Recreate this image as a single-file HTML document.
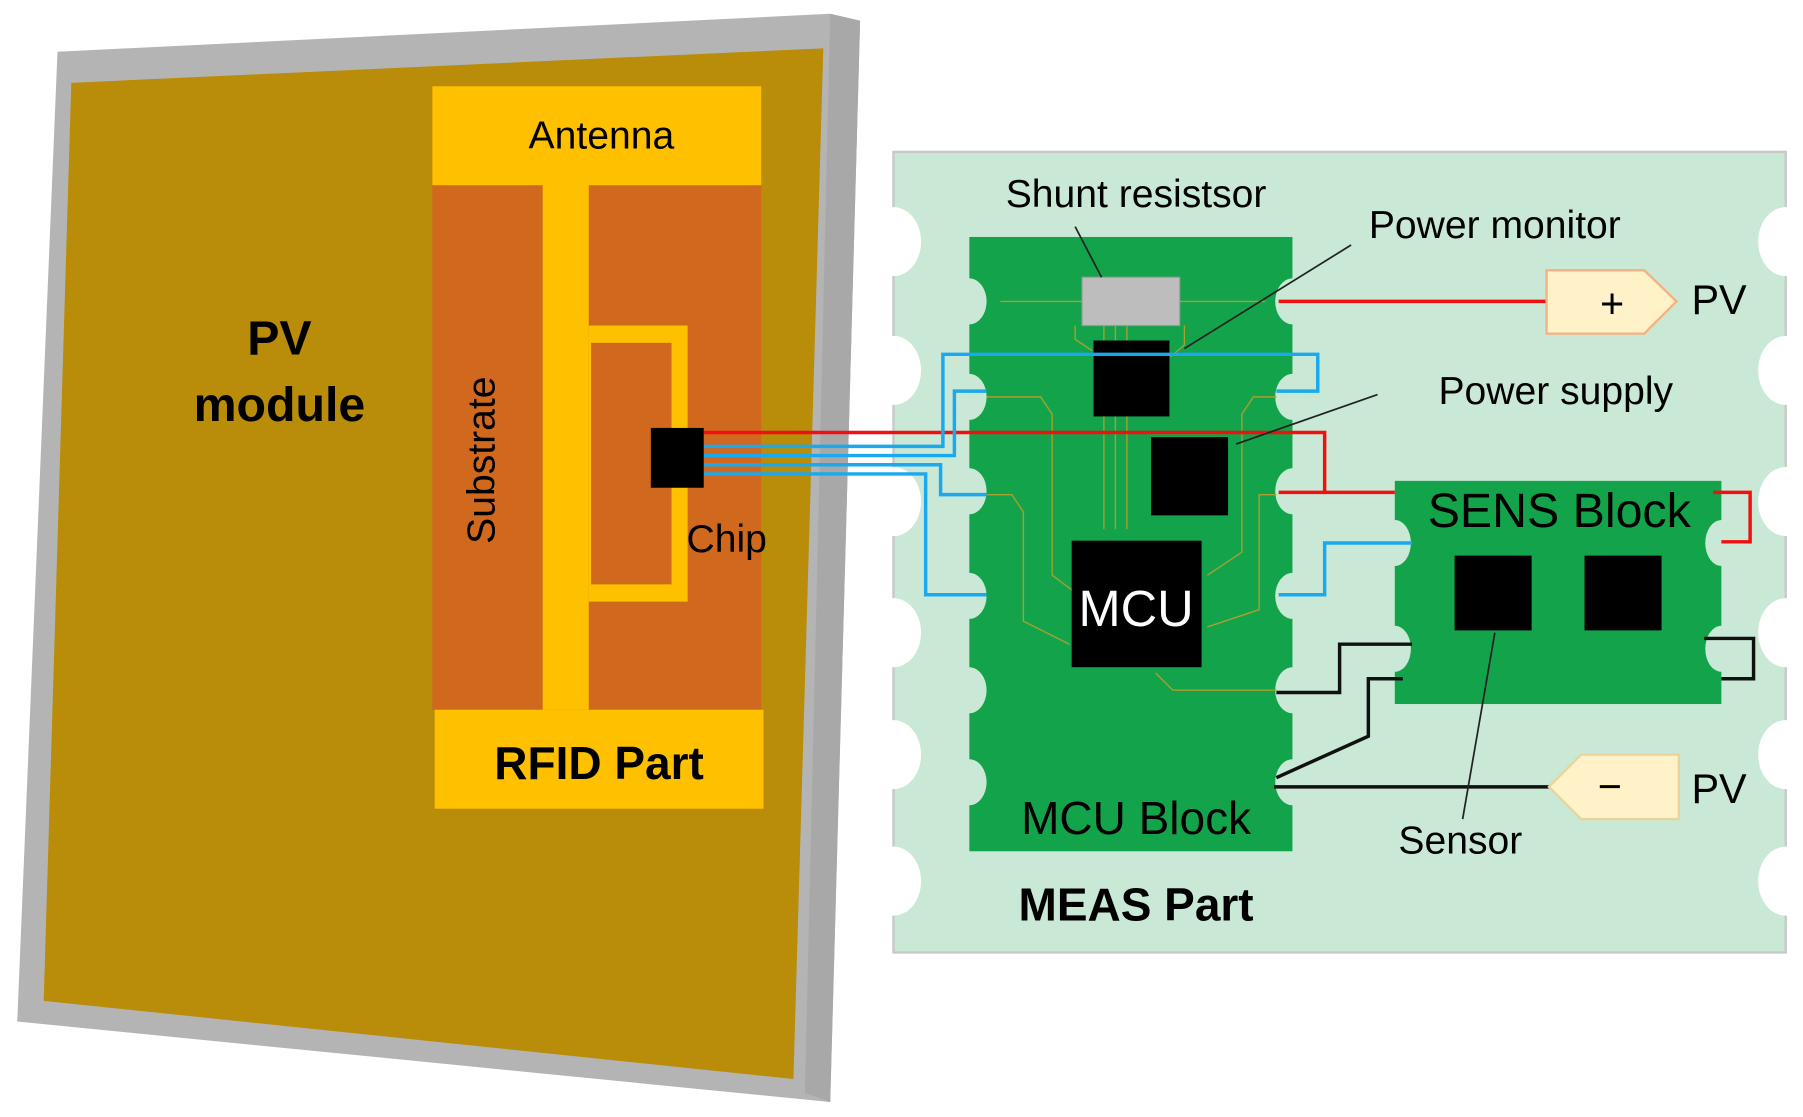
<!DOCTYPE html>
<html><head><meta charset="utf-8"><style>
html,body{margin:0;padding:0;background:#fff;}
svg{display:block;}
text{font-family:"Liberation Sans",sans-serif;}
</style></head><body>
<svg width="1803" height="1117" viewBox="0 0 1568 971" preserveAspectRatio="none" xmlns="http://www.w3.org/2000/svg">
<polygon points="50,45 722,12 748,18 722,958 15,888" fill="#b4b4b4"/>
<polygon points="722,12 748,18 722,958 700,950" fill="#a8a8a8"/>
<polygon points="62,72 716,42 690,938 38,870" fill="#b98c0a"/>
<rect x="376" y="160" width="96" height="457" fill="#d0691e"/>
<rect x="512" y="160" width="150" height="457" fill="#d0691e"/>
<rect x="472" y="160" width="40" height="457" fill="#ffc000"/>
<rect x="512" y="283" width="86" height="240" fill="#ffc000"/>
<rect x="514" y="298" width="70" height="210" fill="#d0691e"/>
<rect x="376" y="75" width="286" height="86" fill="#ffc000"/>
<rect x="378" y="617" width="286" height="86" fill="#ffc000"/>
<text x="523" y="129" font-size="34" text-anchor="middle">Antenna</text>
<text x="521" y="677" font-size="40" font-weight="bold" text-anchor="middle">RFID Part</text>
<text transform="translate(430,400) rotate(-90)" font-size="34" text-anchor="middle">Substrate</text>
<text x="632" y="480" font-size="34" text-anchor="middle">Chip</text>
<text x="243" y="308" font-size="42" font-weight="bold" text-anchor="middle">PV</text>
<text x="243" y="366" font-size="42" font-weight="bold" text-anchor="middle">module</text>
<rect x="777" y="132" width="776" height="696" fill="#c9e9d6" stroke="#c8c8c8" stroke-width="2"/>
<g fill="#fff">
<ellipse cx="777" cy="210" rx="24" ry="30"/><ellipse cx="777" cy="322" rx="24" ry="30"/><ellipse cx="777" cy="436" rx="24" ry="30"/><ellipse cx="777" cy="550" rx="24" ry="30"/><ellipse cx="777" cy="656" rx="24" ry="30"/><ellipse cx="777" cy="766" rx="24" ry="30"/>
<ellipse cx="1553" cy="210" rx="24" ry="30"/><ellipse cx="1553" cy="322" rx="24" ry="30"/><ellipse cx="1553" cy="436" rx="24" ry="30"/><ellipse cx="1553" cy="550" rx="24" ry="30"/><ellipse cx="1553" cy="656" rx="24" ry="30"/><ellipse cx="1553" cy="766" rx="24" ry="30"/>
</g>
<rect x="843" y="206" width="281" height="534" fill="#13a34a"/>
<g fill="#c9e9d6">
<ellipse cx="843" cy="262" rx="15" ry="20"/><ellipse cx="843" cy="345" rx="15" ry="20"/><ellipse cx="843" cy="427" rx="15" ry="20"/><ellipse cx="843" cy="518" rx="15" ry="20"/><ellipse cx="843" cy="600" rx="15" ry="20"/><ellipse cx="843" cy="680" rx="15" ry="20"/>
<ellipse cx="1124" cy="262" rx="15" ry="20"/><ellipse cx="1124" cy="345" rx="15" ry="20"/><ellipse cx="1124" cy="427" rx="15" ry="20"/><ellipse cx="1124" cy="518" rx="15" ry="20"/><ellipse cx="1124" cy="600" rx="15" ry="20"/><ellipse cx="1124" cy="680" rx="15" ry="20"/>
</g>
<g fill="none" stroke="#a8a030" stroke-width="1.2">
<path d="M870,262 H1100"/><path d="M960,283 V460"/><path d="M970,283 V460"/><path d="M980,283 V460"/><path d="M858,345 H905 L915,360 V500 L935,515"/><path d="M858,430 H880 L890,445 V540 L930,560"/><path d="M1110,345 H1090 L1080,360 V480 L1050,500"/><path d="M1110,430 H1095 V530 L1050,545"/><path d="M1110,600 H1020 L1005,585"/><path d="M935,283 V295 L950,305"/><path d="M1030,283 V300 L1018,310"/>
</g>
<rect x="941" y="241" width="85" height="42" fill="#bdbdbd" stroke="#999"/>
<rect x="951" y="296" width="66" height="66" fill="#000"/>
<rect x="1001" y="380" width="67" height="68" fill="#000"/>
<rect x="932" y="470" width="113" height="110" fill="#000"/>
<text x="988" y="544" font-size="44" fill="#fff" text-anchor="middle">MCU</text>
<text x="988" y="725" font-size="40" text-anchor="middle">MCU Block</text>
<rect x="1213" y="418" width="284" height="194" fill="#13a34a"/>
<g fill="#c9e9d6">
<ellipse cx="1213" cy="472" rx="14" ry="20"/><ellipse cx="1213" cy="564" rx="14" ry="20"/>
<ellipse cx="1497" cy="472" rx="14" ry="20"/><ellipse cx="1497" cy="564" rx="14" ry="20"/>
</g>
<rect x="1265" y="483" width="67" height="65" fill="#000"/>
<rect x="1378" y="483" width="67" height="65" fill="#000"/>
<text x="1356" y="458" font-size="42" text-anchor="middle">SENS Block</text>
<g fill="none" stroke-width="3">
<path d="M612,376 H1152 V428 H1213" stroke="#f01010"/>
<path d="M1112,428 H1152" stroke="#f01010"/>
<path d="M1490,428 H1522 V471 H1497" stroke="#f01010"/>
<path d="M1112,262 H1345" stroke="#f01010"/>
<path d="M612,388 H820 V308 H1146 V340 H1110" stroke="#1aa8ee"/>
<path d="M612,396 H830 V340 H858" stroke="#1aa8ee"/>
<path d="M612,404 H818 V430 H858" stroke="#1aa8ee"/>
<path d="M612,412 H805 V517 H858" stroke="#1aa8ee"/>
<path d="M1112,517 H1152 V472 H1228" stroke="#1aa8ee"/>
<path d="M1110,602 H1165 V560 H1228" stroke="#111"/>
<path d="M1482,555 H1525 V590 H1497" stroke="#111"/>
<path d="M1108,684 H1347" stroke="#111"/>
<path d="M1110,676 L1190,640 V590 H1220" stroke="#111"/>
</g>
<rect x="566" y="372" width="46" height="52" fill="#000"/>
<polygon points="1345,235 1430,235 1458,262 1430,290 1345,290" fill="#fff2c8" stroke="#f4b183" stroke-width="2"/>
<text x="1402" y="276" font-size="36" text-anchor="middle">+</text>
<text x="1495" y="273" font-size="36" text-anchor="middle">PV</text>
<polygon points="1375,656 1460,656 1460,712 1375,712 1347,684" fill="#fff2c8" stroke="#e8d49a" stroke-width="2"/>
<text x="1400" y="696" font-size="36" text-anchor="middle">−</text>
<text x="1495" y="698" font-size="36" text-anchor="middle">PV</text>
<text x="988" y="180" font-size="34" text-anchor="middle">Shunt resistsor</text>
<text x="1300" y="207" font-size="34" text-anchor="middle">Power monitor</text>
<text x="1353" y="351" font-size="34" text-anchor="middle">Power supply</text>
<text x="1270" y="742" font-size="34" text-anchor="middle">Sensor</text>
<text x="988" y="800" font-size="40" font-weight="bold" text-anchor="middle">MEAS Part</text>
<g stroke="#222" stroke-width="1.5">
<line x1="935" y1="197" x2="958" y2="241"/>
<line x1="1175" y1="213" x2="1030" y2="303"/>
<line x1="1198" y1="343" x2="1075" y2="386"/>
<line x1="1300" y1="550" x2="1272" y2="712"/>
</g>
</svg>
</body></html>
